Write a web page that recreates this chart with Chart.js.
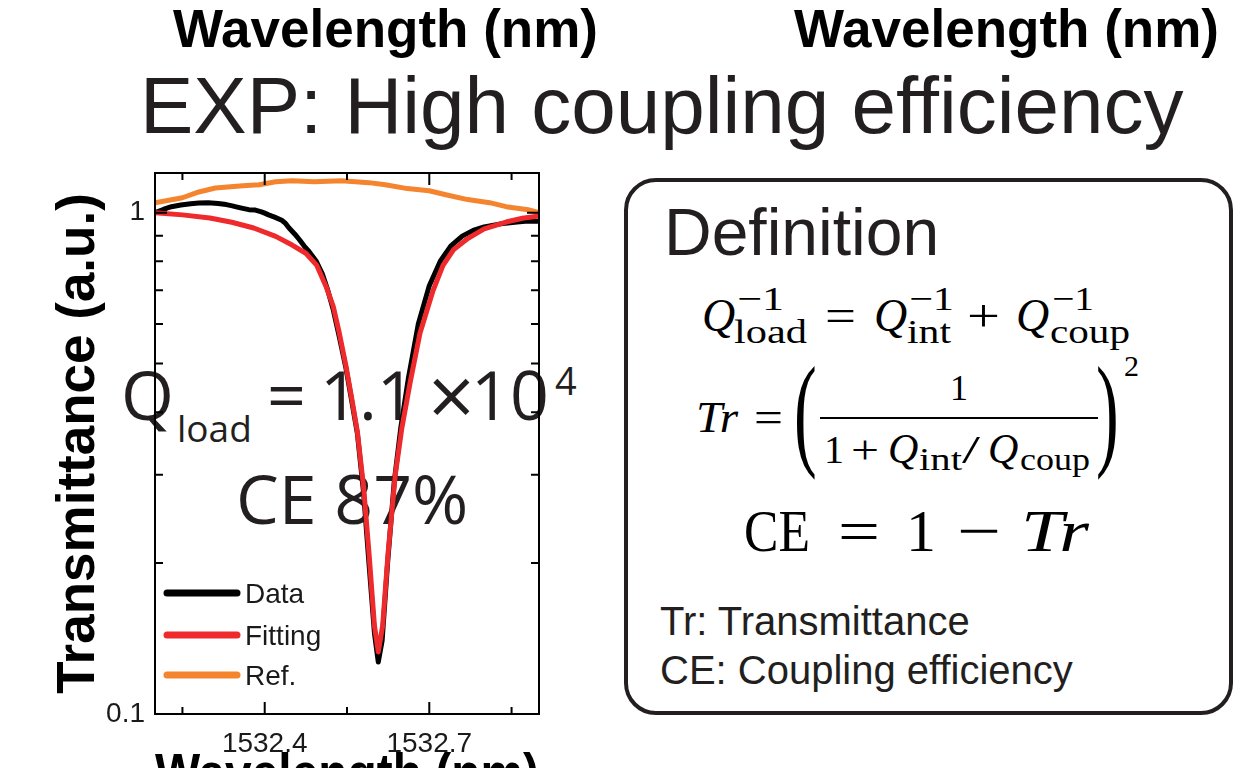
<!DOCTYPE html>
<html>
<head>
<meta charset="utf-8">
<title>EXP: High coupling efficiency</title>
<script src="https://cdn.jsdelivr.net/npm/chart.js@4"></script>
<style>
  html, body { margin: 0; padding: 0; background: #fff; width: 1260px; height: 768px; overflow: hidden; }
  #sheet { position: absolute; left: 0; top: 0; }
  #plot { position: absolute; left: 0; top: 0; width: 600px; height: 820px; }
</style>
</head>
<body>

<svg id="sheet" width="1260" height="768" xmlns="http://www.w3.org/2000/svg">
  <!-- axis titles of the neighbouring panels, cut at the top -->
  <g font-family="'Liberation Sans', Arial, sans-serif" font-weight="bold" font-size="53" fill="#000">
    <text x="173" y="47">Wavelength (nm)</text>
    <text x="794" y="47">Wavelength (nm)</text>
  </g>
  <text x="140" y="133" font-family="'Liberation Sans', Arial, sans-serif" font-size="80" fill="#231f20">EXP: High coupling efficiency</text>

  <!-- numbers written inside the plot -->
  <g font-family="'Open Sans', sans-serif" fill="#231f20">
    <text x="121" y="420" font-size="68">Q<tspan x="177" y="442" font-size="37">load</tspan><tspan x="267" y="420">=</tspan><tspan x="320" y="420">1.1</tspan><tspan x="428" y="426" font-size="82">×</tspan><tspan x="471" y="420">10</tspan><tspan x="555" y="395" font-size="38">4</tspan></text>
    <text x="236" y="524" font-size="68">CE 87%</text>
  </g>

  <!-- definition box -->
  <rect x="626" y="180" width="605" height="533" rx="30" ry="30" fill="none" stroke="#231f20" stroke-width="4"/>
  <text x="664" y="255" font-family="'Liberation Sans', Arial, sans-serif" font-size="66" fill="#231f20">Definition</text>

  <g font-family="'Liberation Serif', 'Times New Roman', serif" fill="#000">
    <!-- Q_load^-1 = Q_int^-1 + Q_coup^-1 -->
    <text x="702" y="331" font-size="46" font-style="italic">Q</text>
    <text x="734" y="343" font-size="34" textLength="73" lengthAdjust="spacingAndGlyphs">load</text>
    <text x="737" y="310" font-size="34" textLength="47" lengthAdjust="spacingAndGlyphs">−1</text>
    <text x="825" y="331" font-size="46" textLength="31" lengthAdjust="spacingAndGlyphs">=</text>
    <text x="874" y="331" font-size="46" font-style="italic">Q</text>
    <text x="907" y="343" font-size="34" textLength="44" lengthAdjust="spacingAndGlyphs">int</text>
    <text x="909" y="310" font-size="34" textLength="45" lengthAdjust="spacingAndGlyphs">−1</text>
    <text x="967" y="331" font-size="46" textLength="33" lengthAdjust="spacingAndGlyphs">+</text>
    <text x="1016" y="331" font-size="46" font-style="italic">Q</text>
    <text x="1050" y="343" font-size="34" textLength="80" lengthAdjust="spacingAndGlyphs">coup</text>
    <text x="1052" y="310" font-size="34" textLength="42" lengthAdjust="spacingAndGlyphs">−1</text>

    <!-- Tr = (1 / (1 + Q_int/Q_coup))^2 -->
    <text x="696" y="432" font-size="45" font-style="italic" textLength="42" lengthAdjust="spacingAndGlyphs">Tr</text>
    <text x="754" y="432" font-size="45" textLength="29" lengthAdjust="spacingAndGlyphs">=</text>
    <text transform="translate(794,453) scale(0.55,1)" font-size="124">(</text>
    <text x="950" y="400" font-size="36">1</text>
    <line x1="820" y1="418" x2="1098" y2="418" stroke="#000" stroke-width="2.2"/>
    <text x="824" y="463" font-size="40">1</text>
    <text x="851" y="463" font-size="40" textLength="28" lengthAdjust="spacingAndGlyphs">+</text>
    <text x="888" y="463" font-size="42" font-style="italic">Q</text>
    <text x="919" y="470" font-size="32" textLength="43" lengthAdjust="spacingAndGlyphs">int</text>
    <text x="962" y="463" font-size="40" textLength="18" lengthAdjust="spacingAndGlyphs">/</text>
    <text x="988" y="463" font-size="42" font-style="italic">Q</text>
    <text x="1020" y="470" font-size="32" textLength="70" lengthAdjust="spacingAndGlyphs">coup</text>
    <text transform="translate(1096,453) scale(0.55,1)" font-size="124">)</text>
    <text x="1124" y="376" font-size="30">2</text>

    <!-- CE = 1 - Tr -->
    <text x="744" y="551" font-size="60" textLength="66" lengthAdjust="spacingAndGlyphs">CE</text>
    <text x="838" y="551" font-size="60" textLength="42" lengthAdjust="spacingAndGlyphs">=</text>
    <text x="906" y="551" font-size="60">1</text>
    <text x="957" y="551" font-size="60" textLength="44" lengthAdjust="spacingAndGlyphs">−</text>
    <text x="1021" y="551" font-size="60" font-style="italic" textLength="68" lengthAdjust="spacingAndGlyphs">Tr</text>
  </g>

  <g font-family="'Liberation Sans', Arial, sans-serif" font-size="40" fill="#231f20">
    <text x="660" y="635">Tr: Transmittance</text>
    <text x="660" y="684">CE: Coupling efficiency</text>
  </g>
</svg>

<div id="plot"><canvas id="spectrumChart"></canvas></div>

<script>
// measured transmission around the resonance (wavelength in nm)
const dataWl = [1532.200, 1532.215, 1532.230, 1532.247, 1532.265, 1532.280, 1532.297, 1532.315, 1532.330, 1532.339,
                1532.350, 1532.360, 1532.371, 1532.383, 1532.394, 1532.400, 1532.407, 1532.418, 1532.431, 1532.438,
                1532.444, 1532.455, 1532.463, 1532.472, 1532.481, 1532.494, 1532.505, 1532.515, 1532.525, 1532.536,
                1532.548, 1532.558, 1532.569, 1532.580, 1532.590, 1532.600, 1532.607, 1532.614, 1532.624, 1532.636,
                1532.648, 1532.662, 1532.680, 1532.700, 1532.720, 1532.740, 1532.760, 1532.780, 1532.800, 1532.830,
                1532.860, 1532.880, 1532.900];
const dataTr = [1.000, 1.015, 1.028, 1.036, 1.042, 1.045, 1.047, 1.043, 1.038, 1.033,
                1.026, 1.020, 1.014, 1.012, 1.004, 0.998, 0.990, 0.980, 0.966, 0.952,
                0.933, 0.906, 0.884, 0.858, 0.836, 0.800, 0.755, 0.700, 0.640, 0.565,
                0.490, 0.425, 0.362, 0.278, 0.200, 0.145, 0.127, 0.140, 0.200, 0.290,
                0.372, 0.468, 0.600, 0.715, 0.800, 0.860, 0.898, 0.922, 0.937, 0.950,
                0.958, 0.962, 0.962];

// Lorentzian fit
const fitWl = [1532.200, 1532.250, 1532.300, 1532.340, 1532.380, 1532.420, 1532.450, 1532.475, 1532.495, 1532.512,
               1532.525, 1532.536, 1532.548, 1532.558, 1532.569, 1532.580, 1532.590, 1532.600, 1532.607, 1532.615,
               1532.625, 1532.638, 1532.650, 1532.665, 1532.683, 1532.707, 1532.725, 1532.744, 1532.770, 1532.800,
               1532.840, 1532.870, 1532.900];
const fitTr = [1.000, 0.990, 0.976, 0.957, 0.932, 0.897, 0.862, 0.830, 0.785, 0.712,
               0.650, 0.575, 0.495, 0.430, 0.365, 0.285, 0.210, 0.150, 0.133, 0.150,
               0.210, 0.300, 0.372, 0.458, 0.575, 0.700, 0.785, 0.843, 0.888, 0.928,
               0.958, 0.975, 0.985];

// reference spectrum without the resonator
const refWl = [1532.200, 1532.250, 1532.280, 1532.310, 1532.360, 1532.390, 1532.420, 1532.450, 1532.490, 1532.540,
               1532.590, 1532.620, 1532.660, 1532.700, 1532.730, 1532.770, 1532.810, 1532.840, 1532.880, 1532.900];
const refTr = [1.047, 1.071, 1.100, 1.120, 1.132, 1.137, 1.153, 1.158, 1.153, 1.158,
               1.148, 1.137, 1.117, 1.106, 1.086, 1.062, 1.047, 1.028, 1.014, 1.000];

const seriesNames = ['Data', 'Fitting', 'Ref.'];
const seriesColors = ['#000000', '#ee2a2c', '#f5842f'];

const xTickValues = [1532.4, 1532.7];
const xMinorTicks = [1532.25, 1532.55, 1532.85];
const yTickValues = [0.1, 1];
const yMinorTicks = [0.2, 0.3, 0.4, 0.5, 0.6, 0.7, 0.8, 0.9];

const toPoints = (xs, ys) => xs.map((x, i) => ({x: x, y: ys[i]}));

const labelFont = {family: "'Liberation Sans', Arial, sans-serif", size: 28};
const titleFont = {family: "'Liberation Sans', Arial, sans-serif", size: 53, weight: 'bold'};

// box around the plot with inward ticks on all four sides
const framePlugin = {
    id: 'frame',
    afterDatasetsDraw(chart) {
        const {ctx, chartArea: a, scales: {x, y}} = chart;
        ctx.save();
        ctx.strokeStyle = '#000';
        ctx.lineWidth = 2;
        ctx.beginPath();
        const tickX = (v, len) => {
            const px = x.getPixelForValue(v);
            ctx.moveTo(px, a.bottom); ctx.lineTo(px, a.bottom - len);
            ctx.moveTo(px, a.top); ctx.lineTo(px, a.top + len);
        };
        const tickY = (v, len) => {
            const py = y.getPixelForValue(v);
            ctx.moveTo(a.left, py); ctx.lineTo(a.left + len, py);
            ctx.moveTo(a.right, py); ctx.lineTo(a.right - len, py);
        };
        xTickValues.forEach(v => tickX(v, 12));
        xMinorTicks.forEach(v => tickX(v, 7));
        yTickValues.forEach(v => tickY(v, 12));
        yMinorTicks.forEach(v => tickY(v, 8));
        ctx.stroke();
        ctx.strokeRect(a.left, a.top, a.right - a.left, a.bottom - a.top);
        ctx.restore();
    }
};

// legend in the lower left corner of the plot
const legendPlugin = {
    id: 'cornerLegend',
    afterDraw(chart) {
        const {ctx, chartArea: a} = chart;
        const rows = [121, 79, 39];
        ctx.save();
        ctx.font = '28px ' + labelFont.family;
        ctx.textBaseline = 'middle';
        chart.data.datasets.forEach((ds, i) => {
            const yy = a.bottom - rows[i];
            ctx.strokeStyle = ds.borderColor;
            ctx.lineWidth = 7;
            ctx.lineCap = 'round';
            ctx.beginPath();
            ctx.moveTo(a.left + 12, yy);
            ctx.lineTo(a.left + 82, yy);
            ctx.stroke();
            ctx.fillStyle = '#1a1a1a';
            ctx.fillText(ds.label, a.left + 90, yy + 2);
        });
        ctx.restore();
    }
};

const ctx = document.getElementById('spectrumChart').getContext('2d');

new Chart(ctx, {
    type: 'line',
    data: {
        datasets: [
            {label: seriesNames[0], data: toPoints(dataWl, dataTr), borderColor: seriesColors[0], order: 1},
            {label: seriesNames[1], data: toPoints(fitWl, fitTr), borderColor: seriesColors[1], order: 0},
            {label: seriesNames[2], data: toPoints(refWl, refTr), borderColor: seriesColors[2], order: 2}
        ]
    },
    options: {
        responsive: true,
        maintainAspectRatio: false,
        animation: false,
        layout: {padding: {left: 0, top: 173, right: 61, bottom: 0}},
        elements: {
            point: {radius: 0},
            line: {borderWidth: 5, tension: 0, borderJoinStyle: 'round', borderCapStyle: 'round'}
        },
        scales: {
            x: {
                type: 'linear',
                min: 1532.2,
                max: 1532.9,
                grid: {display: false, drawTicks: false},
                border: {display: false},
                afterBuildTicks: scale => { scale.ticks = xTickValues.map(v => ({value: v})); },
                afterFit: scale => { scale.height = 106; },
                ticks: {
                    color: '#1a1a1a',
                    font: labelFont,
                    padding: 13,
                    maxRotation: 0,
                    callback: v => v.toFixed(1)
                },
                title: {display: true, text: 'Wavelength (nm)', color: '#000', font: titleFont, padding: {top: 0, bottom: 12}}
            },
            y: {
                type: 'logarithmic',
                min: 0.1,
                max: 1.2,
                grid: {display: false, drawTicks: false},
                border: {display: false},
                afterBuildTicks: scale => { scale.ticks = yTickValues.map(v => ({value: v})); },
                afterFit: scale => { scale.width = 155; },
                ticks: {
                    color: '#1a1a1a',
                    font: labelFont,
                    padding: 10,
                    callback: v => String(v)
                },
                title: {display: true, text: 'Transmittance (a.u.)', color: '#000', font: titleFont, padding: {top: 48, bottom: 0}}
            }
        },
        plugins: {
            legend: {display: false},
            tooltip: {enabled: false}
        }
    },
    plugins: [framePlugin, legendPlugin]
});
</script>
</body>
</html>
